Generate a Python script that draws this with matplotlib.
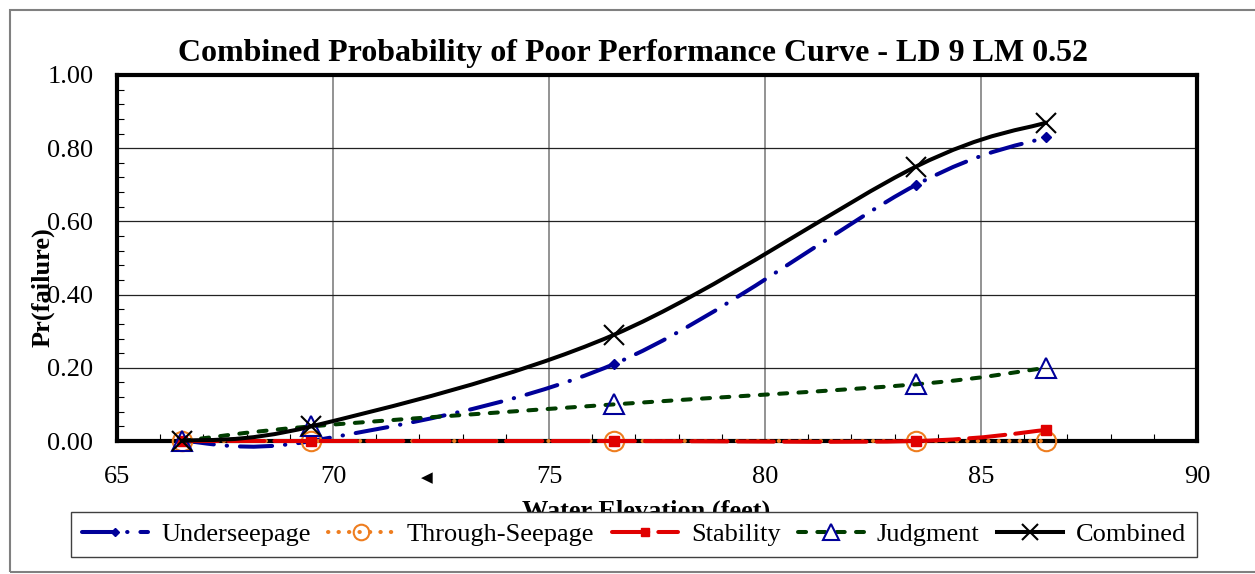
import numpy as np
import matplotlib
matplotlib.use('Agg')
import matplotlib.pyplot as plt
from matplotlib.path import Path
from matplotlib.patches import PathPatch, Rectangle
from matplotlib.lines import Line2D
from matplotlib.ticker import MultipleLocator, FormatStrFormatter

plt.rcParams['font.family'] = ['Liberation Serif', 'DejaVu Serif']

# Values
elevation = [66.5, 69.5, 76.5, 83.5, 86.5]
underseepage = [0.0, 0.0, 0.21, 0.70, 0.83]
through_seepage = [0.0, 0.0, 0.0, 0.0, 0.0]
stability = [0.0, 0.0, 0.0, 0.0, 0.03]
judgment = [0.0, 0.04, 0.10, 0.155, 0.20]
combined = [0.0, 0.04, 0.29, 0.75, 0.87]

series_names = ['Underseepage', 'Through-Seepage', 'Stability', 'Judgment', 'Combined']


def smooth_path(xs, ys):
    # Excel style smoothed line: bezier segments through the points
    pts = np.column_stack([xs, ys])
    n = len(pts)
    verts = [pts[0]]
    codes = [Path.MOVETO]
    for i in range(n - 1):
        p0 = pts[max(i - 1, 0)]
        p1 = pts[i]
        p2 = pts[i + 1]
        p3 = pts[min(i + 2, n - 1)]
        verts += [p1 + (p2 - p0) / 6, p2 - (p3 - p1) / 6, p2]
        codes += [Path.CURVE4] * 3
    return Path(verts, codes)


lw = 2.9
styles = [
    dict(color='#000099', ls=(0, (8, 3.2, 0.1, 3.2)),
         marker='D', ms=5.5, mfc='#000099', mec='#000099', mew=1),
    dict(color='#ee7d1f', ls=(0, (0.1, 2.5)),
         marker='o', ms=14, mfc='none', mec='#ee7d1f', mew=1.5),
    dict(color='#e00000', ls=(0, (9, 2.5)),
         marker='s', ms=7, mfc='#e00000', mec='#e00000', mew=1),
    dict(color='#003d00', ls=(0, (2, 2.8)),
         marker='^', ms=15, mfc='none', mec='#000099', mew=1.5),
    dict(color='black', ls='-',
         marker='x', ms=14, mfc='black', mec='black', mew=1.5),
]
values = [underseepage, through_seepage, stability, judgment, combined]

fig = plt.figure(figsize=(12.55, 5.74), dpi=100)
ax = fig.add_axes([117 / 1255, 1 - 441 / 574, 1080 / 1255, 366 / 574])

handles = []
for k, (name, yv, st) in enumerate(zip(series_names, values, styles)):
    patch = PathPatch(smooth_path(elevation, yv), fill=False, edgecolor=st['color'],
                      lw=lw, linestyle=st['ls'], capstyle='round',
                      zorder=3 + k * 0.1, clip_on=False)
    ax.add_patch(patch)
    ax.plot(elevation, yv, linestyle='none', marker=st['marker'], ms=st['ms'],
            mfc=st['mfc'], mec=st['mec'], mew=st['mew'], zorder=3.05 + k * 0.1,
            clip_on=False)
    handles.append(Line2D([], [], color=st['color'], lw=lw, linestyle=st['ls'],
                          dash_capstyle='round', marker=st['marker'], ms=st['ms'] * 0.8,
                          mfc=st['mfc'], mec=st['mec'], mew=st['mew'], label=name))

ax.set_xlim(65, 90)
ax.set_ylim(0, 1)
ax.xaxis.set_major_locator(MultipleLocator(5))
ax.xaxis.set_minor_locator(MultipleLocator(1))
ax.yaxis.set_major_locator(MultipleLocator(0.2))
ax.yaxis.set_minor_locator(MultipleLocator(0.04))
ax.yaxis.set_major_formatter(FormatStrFormatter('%.2f'))

ax.set_axisbelow(True)
ax.grid(axis='x', which='major', color='#808080', lw=1.2)
ax.grid(axis='y', which='major', color='#222222', lw=0.9)

ax.tick_params(which='both', direction='in', top=False, right=False,
               labelsize=19, color='black')
ax.tick_params(which='major', length=0)
ax.tick_params(which='minor', length=5, width=0.8)
ax.tick_params(axis='x', which='major', pad=18)
ax.tick_params(axis='y', which='major', pad=17)

for sp in ax.spines.values():
    sp.set_linewidth(3)
    sp.set_color('black')

ax.set_xlabel('Water Elevation (feet)', fontsize=19, fontweight='bold')
ax.xaxis.set_label_coords(0.49, -0.16)
ax.set_ylabel('Pr(failure)', fontsize=19, fontweight='bold')
ax.yaxis.set_label_coords(-0.0686, 0.42)
ax.yaxis.label.set_va('center')

fig.text(633 / 1255, 1 - 61 / 574,
         'Combined Probability of Poor Performance Curve - LD 9 LM 0.52',
         ha='center', va='baseline', fontsize=23, fontweight='bold')

# stray arrowhead below the axis in the original
fig.text(427 / 1255, 1 - 478 / 574, '\u25c0', ha='center', va='center',
         fontsize=11, family=['DejaVu Sans'])

leg = fig.legend(handles=handles, loc='center', ncol=5,
                 bbox_to_anchor=(634 / 1255, 1 - 534.5 / 574),
                 fontsize=19, handlelength=2.5, handletextpad=0.5,
                 columnspacing=0.65, borderpad=0.4, fancybox=False,
                 framealpha=1, edgecolor='#404040')
leg.get_frame().set_linewidth(1)

# outer chart border
fig.patches.append(Rectangle((10 / 1255, 2 / 574), 1.2, 562 / 574,
                             transform=fig.transFigure, fill=False,
                             edgecolor='#808080', lw=1.5))

fig.savefig('out.png', dpi=100)
